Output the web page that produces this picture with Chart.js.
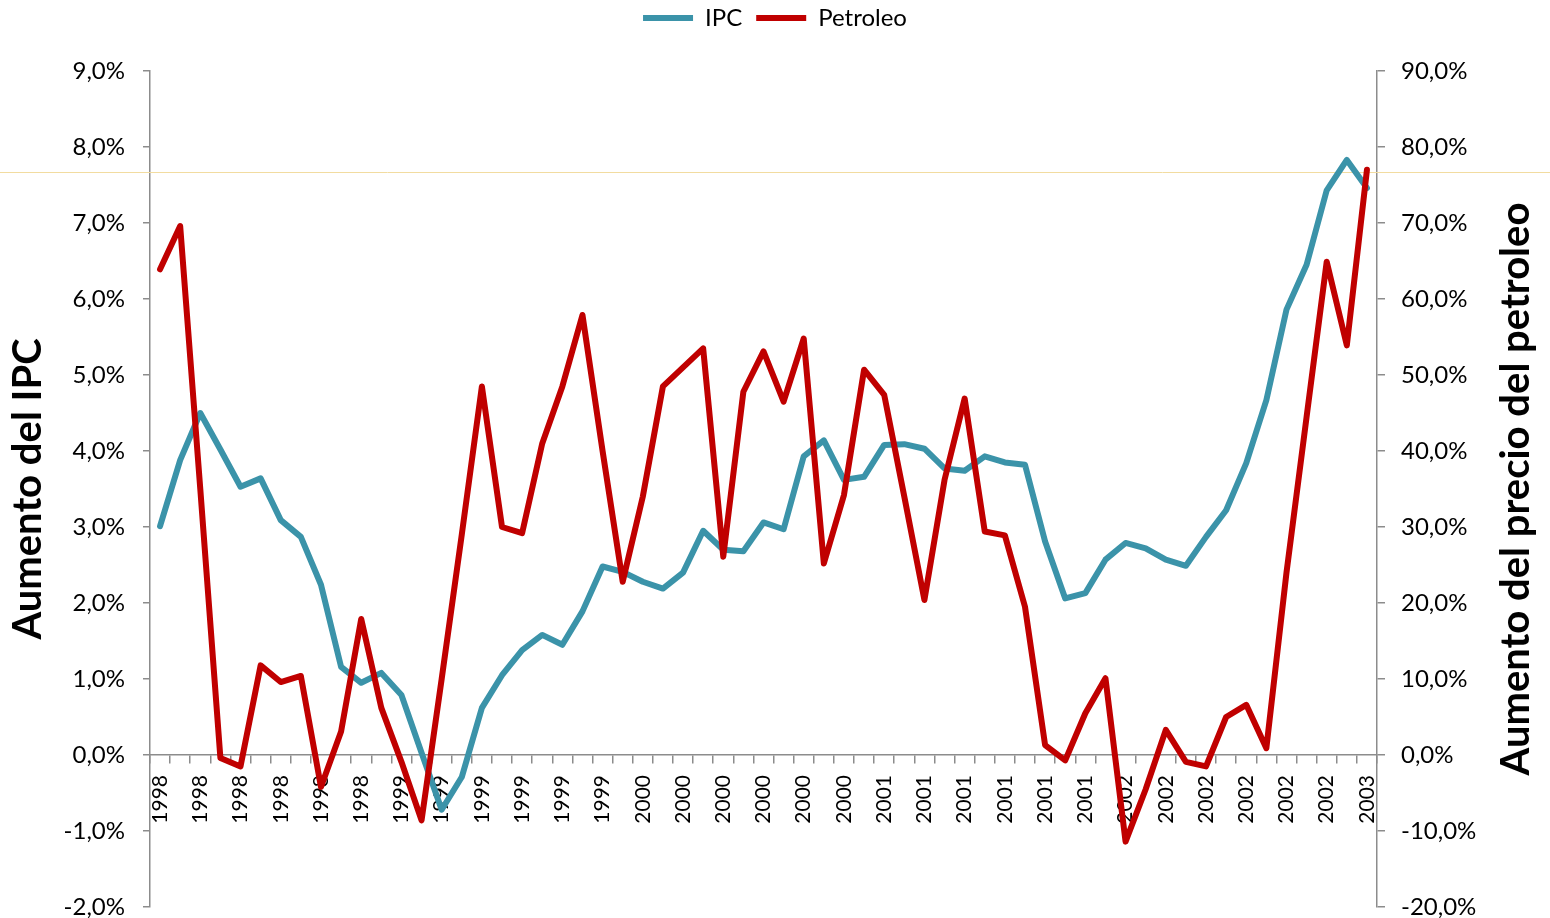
<!DOCTYPE html>
<html>
<head>
<meta charset="utf-8">
<script src="https://cdn.jsdelivr.net/npm/chart.js@4.4.1/dist/chart.umd.min.js"></script>
<style>
  html, body { margin: 0; padding: 0; background: #fff; }
  #wrap { width: 1550px; height: 918px; }
</style>
</head>
<body>
<div id="wrap"><canvas id="grafico"></canvas></div>
<script>
// one category per month, labelled with the year (only every second one is shown)
var anios = [
    '1998', '1998', '1998', '1998', '1998', '1998', '1998', '1998', '1998', '1998', '1998', '1998',
    '1999', '1999', '1999', '1999', '1999', '1999', '1999', '1999', '1999', '1999', '1999', '1999',
    '2000', '2000', '2000', '2000', '2000', '2000', '2000', '2000', '2000', '2000', '2000', '2000',
    '2001', '2001', '2001', '2001', '2001', '2001', '2001', '2001', '2001', '2001', '2001', '2001',
    '2002', '2002', '2002', '2002', '2002', '2002', '2002', '2002', '2002', '2002', '2002', '2002',
    '2003'
];

// % aumento del IPC (eje izquierdo)
var ipc = [
    3.01, 3.88, 4.50, 4.02, 3.53, 3.64, 3.09, 2.87, 2.24, 1.16, 0.95, 1.08,
    0.79, 0.03, -0.72, -0.29, 0.62, 1.05, 1.38, 1.58, 1.45, 1.89, 2.48, 2.41,
    2.28, 2.19, 2.40, 2.95, 2.70, 2.68, 3.06, 2.97, 3.93, 4.14, 3.62, 3.66,
    4.08, 4.09, 4.03, 3.77, 3.74, 3.93, 3.85, 3.82, 2.81, 2.06, 2.13, 2.57,
    2.79, 2.72, 2.57, 2.49, 2.87, 3.22, 3.84, 4.67, 5.86, 6.45, 7.43, 7.83,
    7.46
];

// % aumento del precio del petroleo (eje derecho)
var petroleo = [
    63.9, 69.6, 35.0, -0.4, -1.5, 11.8, 9.6, 10.4, -4.2, 3.1, 17.9, 6.2,
    -0.9, -8.6, 10.0, 29.0, 48.5, 30.0, 29.2, 41.0, 48.5, 57.9, 40.0, 22.8,
    34.0, 48.5, 51.0, 53.5, 26.1, 47.8, 53.1, 46.5, 54.8, 25.2, 34.2, 50.7,
    47.4, 34.0, 20.4, 36.2, 46.9, 29.4, 28.9, 19.5, 1.3, -0.7, 5.5, 10.1,
    -11.4, -4.5, 3.3, -0.9, -1.5, 5.0, 6.6, 0.9, 24.0, 44.5, 64.9, 53.9,
    77.0
];

var ejeIpc = { min: -2, max: 9, paso: 1 };
var ejePetroleo = { min: -20, max: 90, paso: 10 };
var lineaGuia = 7.67; // faint yellow line across the picture

var tituloIzq = 'Aumento del IPC';
var tituloDer = 'Aumento del precio del petroleo';

var gris = '#8c8c8c';

function pct(v) {
    return Number(v).toFixed(1).replace('.', ',') + '%';
}

Chart.defaults.font.family = 'Lato, "DejaVu Sans", sans-serif';
Chart.defaults.color = '#000';

var extras = {
    id: 'extras',
    beforeLayout: function (chart) {
        var legend = chart.legend;
        if (legend && !legend._patched) {
            var fit = legend.fit;
            legend.fit = function () {
                fit.call(this);
                this.height = 79;
            };
            legend._patched = true;
        }
    },
    beforeDatasetsDraw: function (chart) {
        var ctx = chart.ctx;
        var y = Math.round(chart.scales.y.getPixelForValue(lineaGuia)) + 0.5;
        ctx.save();
        ctx.strokeStyle = '#f2dca0';
        ctx.lineWidth = 1;
        ctx.beginPath();
        ctx.moveTo(0, y);
        ctx.lineTo(chart.width, y);
        ctx.stroke();
        ctx.restore();
    },
    afterDraw: function (chart) {
        // right title reads bottom-to-top like the left one
        var ctx = chart.ctx;
        var s = chart.scales.y2;
        var a = chart.chartArea;
        ctx.save();
        ctx.translate(s.right - 34, (a.top + a.bottom) / 2);
        ctx.rotate(-Math.PI / 2);
        ctx.font = 'bold 40px Lato, "DejaVu Sans", sans-serif';
        ctx.fillStyle = '#000';
        ctx.textAlign = 'center';
        ctx.textBaseline = 'middle';
        ctx.fillText(tituloDer, 0, 0);
        ctx.restore();
    }
};

var ctx = document.getElementById('grafico').getContext('2d');

new Chart(ctx, {
    type: 'line',
    data: {
        labels: anios,
        datasets: [
            {
                label: 'IPC',
                data: ipc,
                borderColor: '#3b93a9',
                backgroundColor: '#3b93a9',
                borderWidth: 6,
                borderCapStyle: 'round',
                borderJoinStyle: 'round',
                pointRadius: 0,
                tension: 0,
                yAxisID: 'y',
                order: 1
            },
            {
                label: 'Petroleo',
                data: petroleo,
                borderColor: '#c00000',
                backgroundColor: '#c00000',
                borderWidth: 6,
                borderCapStyle: 'round',
                borderJoinStyle: 'round',
                pointRadius: 0,
                tension: 0,
                yAxisID: 'y2',
                order: 0
            }
        ]
    },
    options: {
        responsive: true,
        maintainAspectRatio: false,
        animation: false,
        layout: { padding: { left: 0, right: 0, top: -8, bottom: 11 } },
        plugins: {
            legend: {
                position: 'top',
                labels: {
                    usePointStyle: true,
                    pointStyle: 'line',
                    pointStyleWidth: 50,
                    padding: 14,
                    color: '#000',
                    font: { size: 24 },
                    sort: function (a, b) { return a.datasetIndex - b.datasetIndex; }
                }
            },
            tooltip: { enabled: false }
        },
        scales: {
            x: {
                type: 'category',
                position: { y: 0 },
                offset: true,
                grid: {
                    offset: true,
                    drawOnChartArea: false,
                    drawTicks: true,
                    tickLength: 8,
                    color: gris,
                    lineWidth: 1.5
                },
                border: { color: gris, width: 1.5 },
                ticks: {
                    autoSkip: false,
                    maxRotation: 90,
                    minRotation: 90,
                    padding: 12,
                    color: '#000',
                    font: { size: 21 },
                    callback: function (v, i) {
                        return i % 2 === 0 ? anios[i] : '';
                    }
                }
            },
            y: {
                position: 'left',
                min: ejeIpc.min,
                max: ejeIpc.max,
                grid: { drawOnChartArea: false, tickLength: 7, color: gris, lineWidth: 1.5 },
                border: { color: gris, width: 1.5 },
                ticks: {
                    stepSize: ejeIpc.paso,
                    padding: 18,
                    color: '#000',
                    font: { size: 24 },
                    callback: pct
                },
                title: {
                    display: true,
                    text: tituloIzq,
                    color: '#000',
                    font: { size: 40, weight: 'bold' },
                    padding: { top: 4 }
                },
                afterFit: function (s) {
                    s.width = 150;
                    s.paddingTop = 0;
                    s.paddingBottom = 0;
                }
            },
            y2: {
                position: 'right',
                min: ejePetroleo.min,
                max: ejePetroleo.max,
                grid: { drawOnChartArea: false, tickLength: 8, color: gris, lineWidth: 1.5 },
                border: { color: gris, width: 1.5 },
                ticks: {
                    stepSize: ejePetroleo.paso,
                    padding: 16,
                    color: '#000',
                    font: { size: 24 },
                    callback: pct
                },
                afterFit: function (s) {
                    s.width = 173;
                    s.paddingTop = 0;
                    s.paddingBottom = 0;
                }
            }
        }
    },
    plugins: [extras]
});
</script>
</body>
</html>
